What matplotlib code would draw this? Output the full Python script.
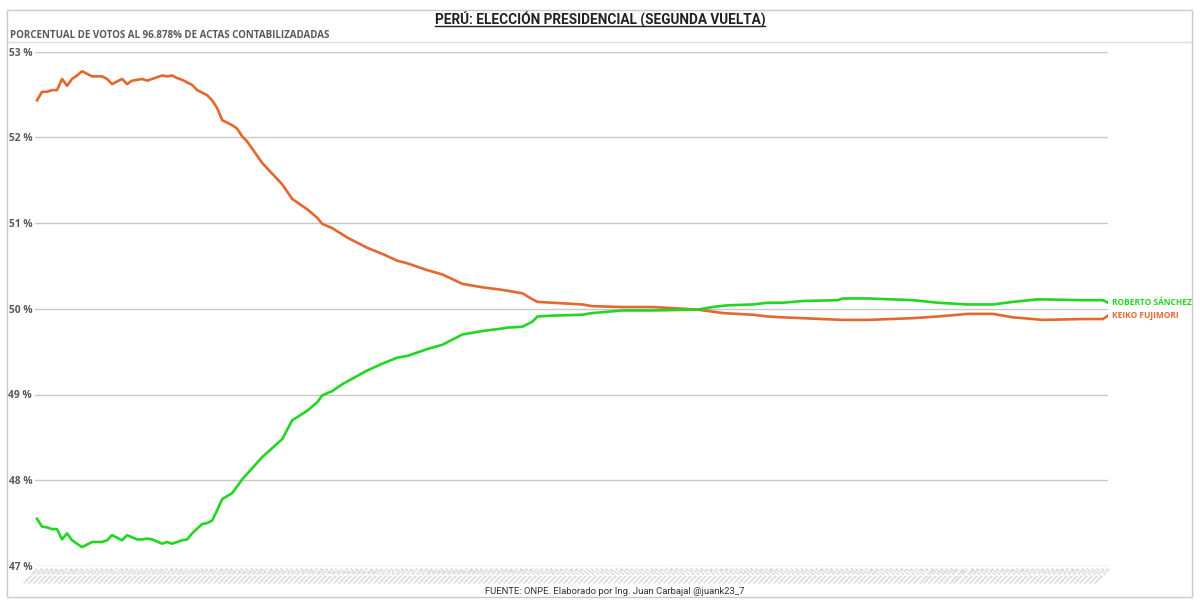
import matplotlib
matplotlib.use("Agg")
import matplotlib.pyplot as plt
from matplotlib.lines import Line2D
from matplotlib.patches import Rectangle

# --- DATOS ---
cortes_keiko = [0, 1, 2, 3, 4, 5, 6, 7, 8, 9, 11, 13, 14, 15, 17, 18, 19, 21, 22, 23,
                25, 26, 27, 28, 29, 31, 32, 33, 34, 35, 36, 37, 39, 40, 41, 42, 45, 49,
                51, 54, 56, 57, 59, 62, 66, 69, 72, 74, 78, 81, 85, 89, 93, 94, 97, 99,
                100, 103, 109, 111, 117, 123, 132, 137, 143, 146, 149, 153, 161, 166,
                175, 180, 186, 191, 195, 201, 209, 213, 214]
keiko = [52.43, 52.53, 52.53, 52.55, 52.55, 52.68, 52.60, 52.68, 52.72, 52.77, 52.71,
         52.71, 52.68, 52.62, 52.68, 52.62, 52.66, 52.68, 52.66, 52.68, 52.72, 52.71,
         52.72, 52.69, 52.67, 52.61, 52.55, 52.52, 52.49, 52.43, 52.34, 52.20, 52.14,
         52.10, 52.01, 51.95, 51.70, 51.45, 51.28, 51.16, 51.06, 50.99, 50.94, 50.83,
         50.71, 50.64, 50.56, 50.53, 50.45, 50.40, 50.29, 50.25, 50.22, 50.21, 50.18,
         50.11, 50.08, 50.07, 50.05, 50.03, 50.02, 50.02, 49.99, 49.95, 49.93, 49.91,
         49.90, 49.89, 49.87, 49.87, 49.89, 49.91, 49.94, 49.94, 49.90, 49.87, 49.88,
         49.88, 49.92]

cortes_sanchez = [0, 1, 2, 3, 4, 5, 6, 7, 8, 9, 11, 13, 14, 15, 17, 18, 20, 21, 22, 23,
                  25, 26, 27, 29, 30, 31, 33, 34, 35, 36, 37, 39, 41, 45, 49, 51, 54, 56,
                  57, 59, 61, 66, 69, 72, 74, 78, 81, 85, 89, 93, 94, 97, 99, 100, 103,
                  109, 111, 117, 123, 132, 135, 138, 143, 146, 149, 153, 160, 161, 166,
                  175, 180, 186, 191, 195, 200, 209, 213, 214]
sanchez = [47.55, 47.46, 47.45, 47.43, 47.43, 47.31, 47.38, 47.30, 47.26, 47.22, 47.28,
           47.28, 47.30, 47.36, 47.30, 47.36, 47.31, 47.31, 47.32, 47.31, 47.26, 47.28,
           47.26, 47.30, 47.31, 47.38, 47.49, 47.50, 47.53, 47.65, 47.78, 47.85, 48.01,
           48.27, 48.48, 48.70, 48.81, 48.91, 48.99, 49.04, 49.12, 49.28, 49.36, 49.43,
           49.45, 49.53, 49.58, 49.70, 49.74, 49.77, 49.78, 49.79, 49.85, 49.91, 49.92,
           49.93, 49.95, 49.98, 49.98, 49.99, 50.02, 50.04, 50.05, 50.07, 50.07, 50.09,
           50.10, 50.12, 50.12, 50.10, 50.07, 50.05, 50.05, 50.08, 50.11, 50.10, 50.10,
           50.07]

n_cortes = 215
etiquetas_x = [f"corte {i + 1:03d}" for i in range(n_cortes)]
ticks_y = [47, 48, 49, 50, 51, 52, 53]

COLOR_KEIKO = "#E4672F"
COLOR_SANCHEZ = "#22D622"
GRIS = "#5a5a5a"
FUENTE_UI = ["Open Sans", "DejaVu Sans"]
FUENTE_DIN = ["Roboto", "DejaVu Sans"]

# --- FIGURA ---
W, H = 1200, 605
fig = plt.figure(figsize=(W / 100, H / 100), dpi=100)
fig.patch.set_facecolor("white")

ax = fig.add_axes([35 / W, 1 - 566 / H, (1108 - 35) / W, (566 - 51.5) / H])
ax.plot(cortes_keiko, keiko, color=COLOR_KEIKO, lw=1.9, solid_joinstyle="round")
ax.plot(cortes_sanchez, sanchez, color=COLOR_SANCHEZ, lw=1.9, solid_joinstyle="round")

ax.set_ylim(47, 53)
ax.set_xlim(-0.4, n_cortes - 1)
ax.set_yticks(ticks_y)
ax.set_yticklabels([f"{v} %" for v in ticks_y], fontsize=7.4, color=GRIS,
                   fontweight="bold", family=FUENTE_UI)
ax.tick_params(axis="y", length=0, pad=2)
ax.grid(axis="y", color="#c8c8c8", lw=1)
ax.set_axisbelow(True)

ax.set_xticks(range(n_cortes))
ax.set_xticklabels(etiquetas_x, rotation=45, ha="right", rotation_mode="anchor",
                   fontsize=3.1, color="#a8a8a8")
ax.tick_params(axis="x", length=0, pad=1)

for s in ax.spines.values():
    s.set_visible(False)

# etiquetas al final de cada línea
ax.annotate("ROBERTO SÁNCHEZ", (cortes_sanchez[-1], sanchez[-1]), xytext=(3, 0),
            textcoords="offset points", va="center", ha="left", fontsize=6.0,
            fontweight="bold", color=COLOR_SANCHEZ, annotation_clip=False,
            family=FUENTE_UI)
ax.annotate("KEIKO FUJIMORI", (cortes_keiko[-1], keiko[-1]), xytext=(3, 0),
            textcoords="offset points", va="center", ha="left", fontsize=6.0,
            fontweight="bold", color=COLOR_KEIKO, annotation_clip=False,
            family=FUENTE_UI)

# marco y separador
fig.add_artist(Rectangle((7 / W, 1 - 597 / H), (1192 - 7) / W, (597 - 10) / H,
                         transform=fig.transFigure, fill=False, edgecolor="#c9c9c9", lw=1))
fig.add_artist(Line2D([8 / W, 1191 / W], [1 - 42 / H, 1 - 42 / H],
                      transform=fig.transFigure, color="#e0e0e0", lw=1))

titulo = fig.text(600 / W, 1 - 19 / H, "PERÚ: ELECCIÓN PRESIDENCIAL (SEGUNDA VUELTA)",
                  ha="center", va="center", fontsize=9.8, fontweight="bold", color="#222222",
                  family=FUENTE_DIN)
fig.text(10 / W, 1 - 35 / H, "PORCENTUAL DE VOTOS AL 96.878% DE ACTAS CONTABILIZADADAS",
         ha="left", va="center", fontsize=7, fontweight="bold", color=GRIS,
         family=FUENTE_UI)
fig.text(615 / W, 1 - 591 / H, "FUENTE: ONPE. Elaborado por Ing. Juan Carbajal @juank23_7",
         ha="center", va="center", fontsize=6.8, color="#333333",
         family=FUENTE_DIN)

# subrayado del título
fig.canvas.draw()
bb = titulo.get_window_extent()
fig.add_artist(Line2D([bb.x0, bb.x1], [bb.y0 + 0.5, bb.y0 + 0.5], transform=None,
                      color="#222222", lw=1))

fig.savefig("out.png", dpi=100, facecolor="white")
